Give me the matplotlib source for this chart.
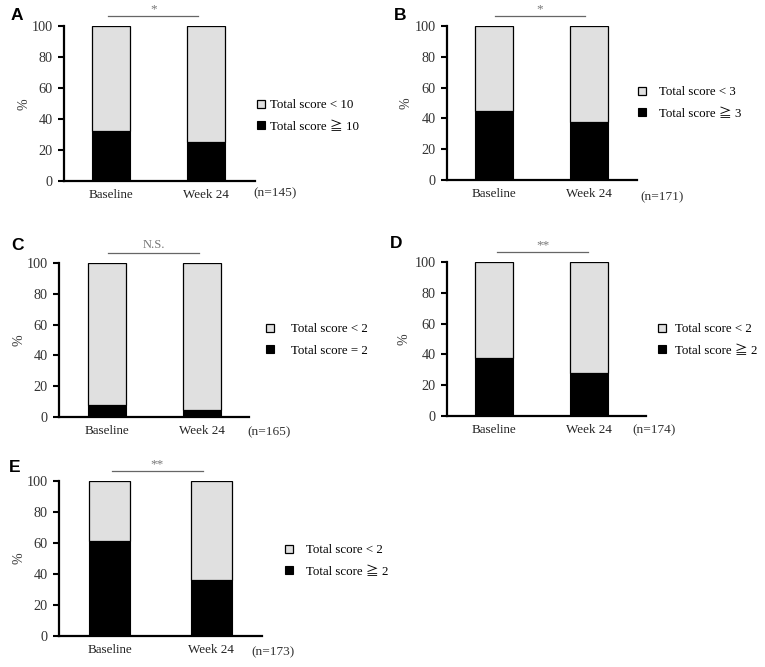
import matplotlib
matplotlib.use("Agg")
import matplotlib.pyplot as plt

# ---- data ----
categories = ["Baseline", "Week 24"]
panel_ids = ["A", "B", "C", "D", "E"]
high_pct_A = [32.5, 25.4]
high_pct_B = [45.0, 37.7]
high_pct_C = [8.0, 4.3]
high_pct_D = [37.4, 27.6]
high_pct_E = [61.4, 36.4]
low_labels = ["Total score < 10", "Total score < 3", "Total score < 2", "Total score < 2", "Total score < 2"]
high_labels = ["Total score \u2267 10", "Total score \u2267 3", "Total score = 2", "Total score \u2267 2", "Total score \u2267 2"]
n_labels = ["(n=145)", "(n=171)", "(n=165)", "(n=174)", "(n=173)"]
sig_labels = ["*", "*", "N.S.", "**", "**"]
yticks = [0, 20, 40, 60, 80, 100]

high_values = [high_pct_A, high_pct_B, high_pct_C, high_pct_D, high_pct_E]

W, H = 765, 667
fig = plt.figure(figsize=(W / 100, H / 100), dpi=100)
SERIF = ["Liberation Serif", "Noto Sans CJK JP", "DejaVu Serif"]
plt.rcParams["font.family"] = SERIF

LIGHT = "#e0e0e0"

def fx(x):
    return x / W

def fy(y):
    return 1 - y / H

layout = [
    dict(box=(64, 26, 255, 181), xlim=(-0.495, 1.516), sig=(-0.03, 0.92), letter=(17, 15),
         leg=(257, 116), hpad=0.4, n=(253, 193), pct=(24, 104)),
    dict(box=(447, 26, 637, 180), xlim=(-0.495, 1.505), sig=(0.01, 0.96), letter=(400, 15),
         leg=(638, 103), hpad=1.0, n=(640, 197), pct=(406, 103)),
    dict(box=(59, 263, 249, 417), xlim=(-0.51, 1.5), sig=(0.01, 0.97), letter=(17, 245),
         leg=(266, 340), hpad=1.3, n=(247, 432), pct=(19, 340)),
    dict(box=(447, 262, 646, 416), xlim=(-0.49, 1.6), sig=(0.04, 0.99), letter=(396, 244),
         leg=(658, 340), hpad=0.7, n=(632, 430), pct=(404, 339)),
    dict(box=(59, 481, 262, 636), xlim=(-0.5, 1.5), sig=(0.02, 0.92), letter=(15, 467),
         leg=(285, 561), hpad=1.0, n=(251, 652), pct=(19, 558)),
]

for i, (pid, vals, lay) in enumerate(zip(panel_ids, high_values, layout)):
    l, t, r, b = lay["box"]
    ax = fig.add_axes([fx(l), fy(b), fx(r) - fx(l), fy(t) - fy(b)])
    x = list(range(len(categories)))
    low = [100 - v for v in vals]
    bh = ax.bar(x, vals, width=0.4, color="black", edgecolor="black", linewidth=0.8, zorder=2)
    bl = ax.bar(x, low, bottom=vals, width=0.4, color=LIGHT, edgecolor="black", linewidth=0.9, zorder=2)
    ax.set_xlim(*lay["xlim"])
    ax.set_ylim(0, 100)
    ax.set_yticks(yticks)
    ax.set_xticks(x)
    ax.set_xticklabels(categories, fontsize=9.4)
    ax.tick_params(axis="x", length=0, pad=6)
    ax.tick_params(axis="y", length=4, width=1.5, direction="out", pad=4, labelsize=10.3,
                   labelcolor="#333333")
    for s in ["top", "right"]:
        ax.spines[s].set_visible(False)
    for s in ["left", "bottom"]:
        ax.spines[s].set_linewidth(1.6)
    for lab in ax.get_xticklabels():
        lab.set_color("#222222")

    sx0, sx1 = lay["sig"]
    ax.plot([sx0, sx1], [106.5, 106.5], color="#666666", lw=0.9, clip_on=False)
    is_ns = sig_labels[i] == "N.S."
    ax.text((sx0 + sx1) / 2, 107.0 if not is_ns else 107.5, sig_labels[i], ha="center", va="bottom",
            fontsize=9.5 if not is_ns else 9, color="#777777")

    ax.legend([bl, bh], [low_labels[i], high_labels[i]], loc="center left",
              bbox_to_anchor=(fx(lay["leg"][0]), fy(lay["leg"][1])),
              bbox_transform=fig.transFigure, frameon=False,
              handlelength=0.6, handleheight=0.6, handletextpad=lay["hpad"],
              labelspacing=0.75, borderpad=0, borderaxespad=0,
              prop={"family": SERIF, "size": 9.3})

    fig.text(fx(lay["n"][0]), fy(lay["n"][1]), n_labels[i], ha="left", va="center",
             fontsize=9.6, color="#333333")
    fig.text(fx(lay["pct"][0]), fy(lay["pct"][1]), "%", rotation=90, ha="center",
             va="center", fontsize=10, color="#333333")
    fig.text(fx(lay["letter"][0]), fy(lay["letter"][1]), pid, ha="center", va="center",
             fontsize=12.5, fontweight="bold", family="Liberation Sans")

fig.savefig("out.png", dpi=100)
